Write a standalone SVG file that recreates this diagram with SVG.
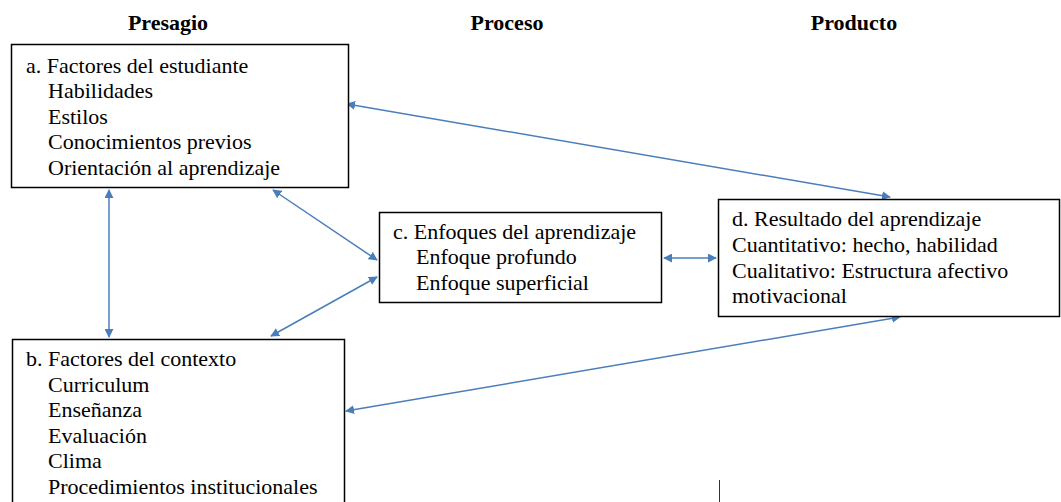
<svg xmlns="http://www.w3.org/2000/svg" width="1061" height="502" viewBox="0 0 1061 502">
<style>
.box{fill:#fff;stroke:#000;stroke-width:1.5}
.c{stroke:#4a7ebb;stroke-width:1.5;fill:none;marker-start:url(#ah);marker-end:url(#ah)}
</style>
<defs>
<marker id="ah" viewBox="0 0 10 10" refX="9" refY="5" markerWidth="9" markerHeight="9" markerUnits="userSpaceOnUse" orient="auto-start-reverse">
<path d="M0,0 L10,5 L0,10 z" fill="#4a7ebb"/>
</marker>
</defs>
<rect width="1061" height="502" fill="#fff"/>
<g id="headers" font-family="Liberation Serif" font-size="22" font-weight="bold" text-anchor="middle" fill="#000">
<text x="168" y="30">Presagio</text>
<text x="507" y="30">Proceso</text>
<text x="854" y="30">Producto</text>
</g>
<g id="connectors">
<line class="c" x1="347" y1="104" x2="890" y2="197"/>
<line class="c" x1="109" y1="190" x2="109" y2="337"/>
<line class="c" x1="273" y1="190" x2="377" y2="260"/>
<line class="c" x1="271" y1="336" x2="377" y2="277"/>
<line class="c" x1="664" y1="258" x2="716" y2="258"/>
<line class="c" x1="346" y1="411" x2="900" y2="317"/>
</g>
<g font-family="Liberation Serif" font-size="22" fill="#000">
<g id="node-a">
<rect class="box" x="11.5" y="44.5" width="337" height="143"/>
<text x="26" y="73">a. Factores del estudiante</text>
<text x="48" y="98">Habilidades</text>
<text x="48" y="124">Estilos</text>
<text x="48" y="149">Conocimientos previos</text>
<text x="48" y="175">Orientación al aprendizaje</text>
</g>
<g id="node-b">
<rect class="box" x="12.5" y="339.5" width="332" height="170"/>
<text x="26" y="366">b. Factores del contexto</text>
<text x="48" y="392">Curriculum</text>
<text x="48" y="417">Enseñanza</text>
<text x="48" y="443">Evaluación</text>
<text x="48" y="468">Clima</text>
<text x="48" y="494">Procedimientos institucionales</text>
</g>
<g id="node-c">
<rect class="box" x="379.5" y="212.5" width="282" height="90"/>
<text x="393" y="239">c. Enfoques del aprendizaje</text>
<text x="416" y="264">Enfoque profundo</text>
<text x="416" y="290">Enfoque superficial</text>
</g>
<g id="node-d">
<rect class="box" x="718.5" y="199.5" width="341" height="117"/>
<text x="732" y="226">d. Resultado del aprendizaje</text>
<text x="732" y="252">Cuantitativo: hecho, habilidad</text>
<text x="732" y="278">Cualitativo: Estructura afectivo</text>
<text x="732" y="303">motivacional</text>
</g>
</g>
<line x1="719.5" y1="480" x2="719.5" y2="502" stroke="#333" stroke-width="1"/>
</svg>
